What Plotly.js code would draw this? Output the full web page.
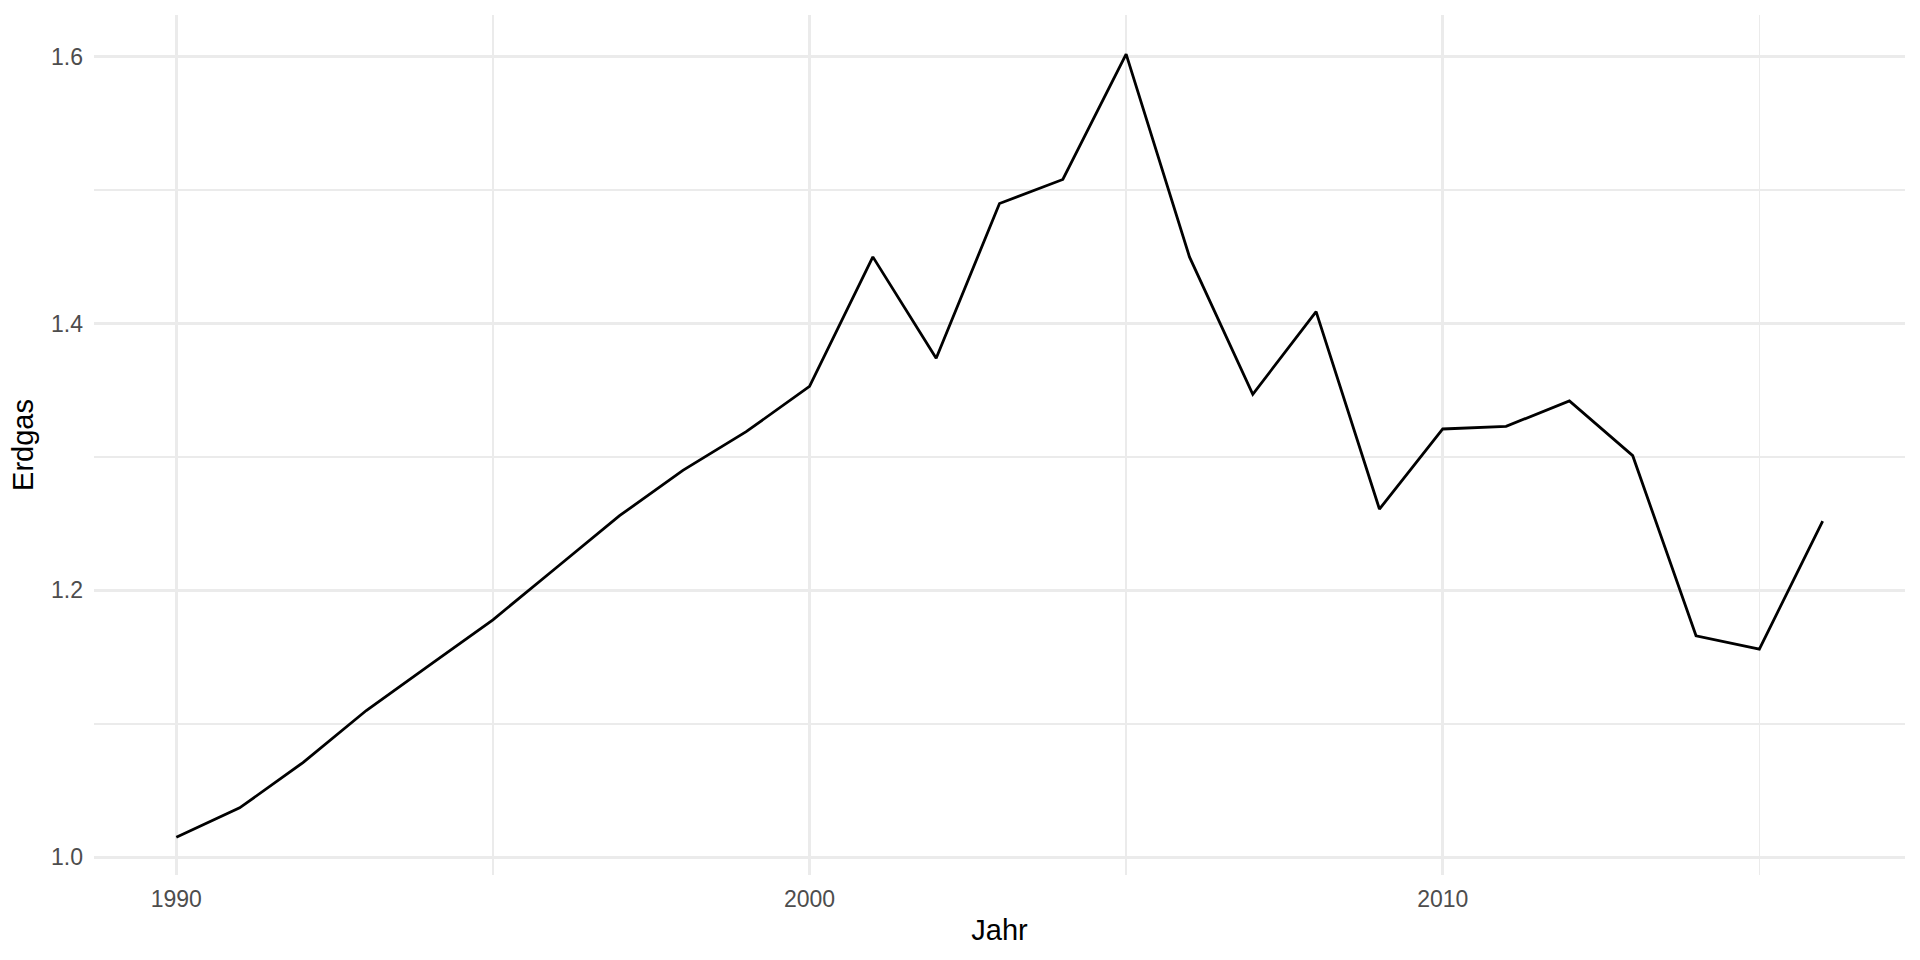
<!DOCTYPE html>
<html>
<head>
<meta charset="utf-8">
<script src="https://cdn.plot.ly/plotly-3.0.1.min.js"></script>
<style>
  html, body { margin: 0; padding: 0; background: #ffffff; }
  #chart { width: 1920px; height: 960px; }
</style>
</head>
<body>
<div id="chart"></div>
<script>
const years = [1990, 1991, 1992, 1993, 1994, 1995, 1996, 1997, 1998, 1999,
               2000, 2001, 2002, 2003, 2004, 2005, 2006, 2007, 2008, 2009,
               2010, 2011, 2012, 2013, 2014, 2015, 2016];
const erdgas = [1.015, 1.037, 1.071, 1.110, 1.144, 1.178, 1.217, 1.256, 1.290, 1.319,
                1.353, 1.450, 1.374, 1.490, 1.508, 1.602, 1.450, 1.347, 1.409, 1.261,
                1.321, 1.323, 1.342, 1.301, 1.166, 1.156, 1.252];
const xTickVals = [1990, 2000, 2010];
const xTickText = ['1990', '2000', '2010'];
const yTickVals = [1.0, 1.2, 1.4, 1.6];
const yTickText = ['1.0', '1.2', '1.4', '1.6'];

const font = 'Liberation Sans, Arial, Helvetica, sans-serif';

const trace = {
  x: years,
  y: erdgas,
  type: 'scatter',
  mode: 'lines',
  line: { color: '#000000', width: 2.8 },
  hoverinfo: 'skip'
};

const layout = {
  width: 1920,
  height: 960,
  paper_bgcolor: '#ffffff',
  plot_bgcolor: '#ffffff',
  showlegend: false,
  margin: { l: 94, r: 15, t: 15, b: 85 },
  font: { family: font, color: '#000000' },
  xaxis: {
    range: [1988.7, 2017.3],
    tickmode: 'array',
    tickvals: xTickVals,
    ticktext: xTickText,
    ticks: '',
    showline: false,
    zeroline: false,
    showgrid: true,
    gridcolor: '#ebebeb',
    gridwidth: 2.7,
    minor: { dtick: 5, tick0: 1990, showgrid: true, gridcolor: '#ebebeb', gridwidth: 1.4 },
    tickfont: { family: font, size: 23, color: '#4d4d4d' },
    ticklabelstandoff: 8,
    title: { text: 'Jahr', font: { family: font, size: 29, color: '#000000' }, standoff: 8 }
  },
  yaxis: {
    range: [0.9867, 1.6313],
    tickmode: 'array',
    tickvals: yTickVals,
    ticktext: yTickText,
    ticks: '',
    showline: false,
    zeroline: false,
    showgrid: true,
    gridcolor: '#ebebeb',
    gridwidth: 2.7,
    minor: { dtick: 0.1, tick0: 1.0, showgrid: true, gridcolor: '#ebebeb', gridwidth: 1.4 },
    tickfont: { family: font, size: 23, color: '#4d4d4d' },
    ticklabelstandoff: 10,
    title: { text: 'Erdgas', font: { family: font, size: 29, color: '#000000' }, standoff: 8 }
  }
};

Plotly.newPlot('chart', [trace], layout, { staticPlot: true, displayModeBar: false });
</script>
</body>
</html>
